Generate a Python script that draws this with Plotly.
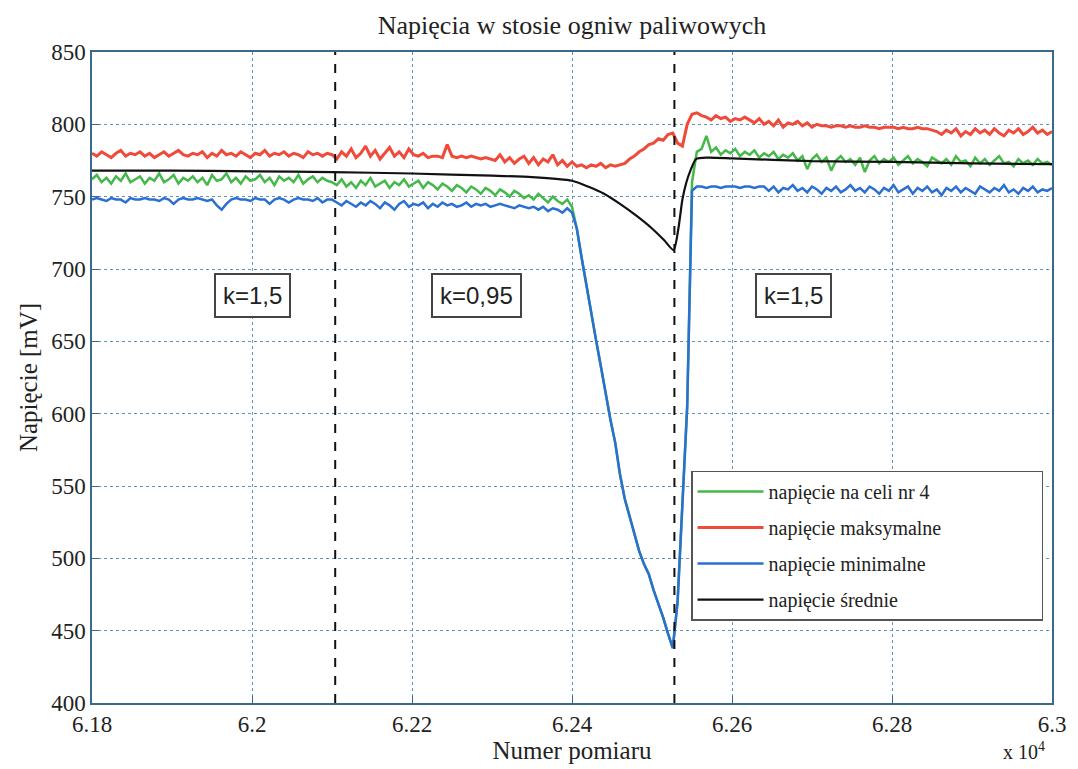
import plotly.graph_objects as go

# measurement numbers (sampled every 6 measurements)
sample = list(range(61800, 63001, 6))

v_cell4 = [
    762, 765, 760, 763, 759, 764, 761, 766, 760, 762,
    764, 759, 763, 761, 766, 760, 762, 765, 759, 763,
    761, 764, 760, 763, 758, 765, 761, 762, 766, 760,
    763, 759, 764, 761, 762, 765, 760, 763, 758, 764,
    761, 763, 760, 765, 759, 762, 764, 760, 763, 761,
    760,
    758, 762, 757, 760, 756, 761, 758, 763, 757, 759,
    761, 756, 760, 758, 762, 757, 759, 761, 756, 760,
    758, 755, 759, 757, 754, 758, 756, 753, 757, 755,
    752, 756, 754, 751, 755, 753, 750, 754, 752, 749,
    751, 748, 752, 749, 746, 750, 747, 745, 748, 743,
    728, 708, 688, 668, 651, 633, 613, 596, 580, 558,
    541, 529, 518, 505, 496, 489, 478, 469, 459, 448,
    438, 470, 535, 605,
    760, 781,
    783, 792, 781, 784, 779, 782, 780, 783, 778, 781,
    779, 782, 777, 780, 778, 781, 776, 779, 777, 780,
    775, 778, 769, 776, 779, 774, 777, 768, 775, 778,
    774, 776, 772, 777, 767, 775, 778, 773, 776, 774,
    777, 772, 775, 778, 773, 776, 774, 771, 777, 775,
    773, 776, 772, 778, 774, 775, 771, 777, 773, 776,
    772, 775, 778, 773, 774, 771, 776, 773, 775, 772,
    776, 773, 774, 772,
]

v_max = [
    780, 778, 781, 779, 777, 780, 782, 778, 780, 779,
    781, 778, 780, 777, 779, 781, 778, 780, 782, 779,
    778, 780, 779, 781, 777, 780, 778, 782, 779, 780,
    778, 781, 779, 777, 780, 779, 782, 778, 780, 779,
    781, 778, 780, 779, 777, 781, 779, 780, 778, 780,
    779,
    776, 781, 778, 783, 777, 780, 785, 778, 782, 776,
    780, 784, 778, 781, 777, 783, 779, 778, 780, 777,
    778, 778, 777, 786, 778, 777, 778, 777, 778, 777,
    776, 777, 776, 775, 779, 774, 777, 773, 776, 778,
    773, 777, 772, 776, 774, 779, 772, 775, 771, 774,
    771, 772, 770, 772, 771, 773, 770, 772, 771, 772,
    773, 776, 778, 781, 783, 786, 787, 790, 789, 793,
    794, 787, 785, 800, 807, 808,
    806, 805, 803, 806, 804, 805, 802, 804, 803, 805,
    803, 801, 804, 800, 802, 799, 803, 798, 801, 800,
    802, 799, 801, 798, 800, 799, 799, 798, 799, 799,
    798, 799, 798, 798, 799, 798, 798, 797, 798, 798,
    798, 797, 798, 797, 797, 798, 797, 797, 796, 795,
    793, 796, 794, 797, 792, 795, 793, 797, 794, 796,
    793, 797, 794, 792, 796, 794, 797, 793, 795, 798,
    794, 796, 793, 795,
]

v_min = [
    748, 749, 748, 747, 749, 748, 748, 746, 749, 748,
    748, 749, 748, 748, 747, 749, 748, 745, 748, 749,
    748, 748, 749, 748, 747, 748, 744, 741, 745, 748,
    749, 748, 748, 747, 749, 748, 748, 745, 748, 749,
    748, 746, 748, 749, 748, 748, 747, 749, 746, 748,
    748,
    746, 744, 747, 745, 743, 746, 744, 747, 745, 742,
    746, 744, 741, 745, 747, 743, 745, 744, 746, 742,
    745, 743, 746, 744, 745, 743, 744, 746, 743, 745,
    744, 745, 743, 744, 745, 744, 743, 742, 744, 743,
    742, 743, 741, 743, 740, 742, 741, 739, 742, 739,
    728, 708, 688, 668, 651, 633, 613, 596, 580, 558,
    541, 529, 518, 505, 496, 489, 478, 469, 459, 448,
    438, 470, 535, 605, 754,
    757, 757, 756, 757, 757, 756, 757, 757, 757, 756,
    757, 757, 756, 757, 757,
    754, 757, 753, 756, 755, 758, 754, 756, 753, 757,
    755, 752, 756, 754, 757, 753, 755, 758, 754, 756,
    753, 757, 755, 752, 756, 754, 758, 753, 755, 757,
    752, 756, 754, 757, 753, 755, 751, 756, 754, 757,
    753, 756, 754, 752, 757, 755, 753, 756, 754, 758,
    753, 755, 752, 756, 754, 757, 753, 755, 754, 756,
]

mean_x = [61800, 61900, 62000, 62100, 62200, 62300, 62350, 62400, 62420,
          62440, 62460, 62480, 62500, 62515, 62527, 62533, 62538, 62543,
          62548, 62555, 62570, 62600, 62700, 62800, 62900, 63000]
v_mean = [768, 768, 767.5, 767, 766, 764.5, 763.5, 761, 757,
          752, 745, 737, 728, 720, 713, 728, 748, 760,
          768, 776, 777, 776.5, 774.5, 774, 773, 772.5]

series_names = ["napięcie na celi nr 4", "napięcie maksymalne",
                "napięcie minimalne", "napięcie średnie"]

x_tick_vals = [61800, 62000, 62200, 62400, 62600, 62800, 63000]
x_tick_text = ["6.18", "6.2", "6.22", "6.24", "6.26", "6.28", "6.3"]

phase_bounds = [62104, 62528]
phase_labels = ["k=1,5", "k=0,95", "k=1,5"]
phase_label_x = [62001, 62281, 62677]
phase_label_y = [682, 682, 682]

serif = "Liberation Serif, Times New Roman, serif"
sans = "Liberation Sans, Arial, sans-serif"

legend_pad = "&nbsp;" * 19

fig = go.Figure()
fig.add_trace(go.Scatter(x=sample, y=v_cell4, mode="lines", name=series_names[0],
                         legendgroup="a", line=dict(color="#45b84a", width=2.5)))
fig.add_trace(go.Scatter(x=sample, y=v_max, mode="lines", name=series_names[1] + legend_pad,
                         legendgroup="b", line=dict(color="#ef4a3a", width=3)))
fig.add_trace(go.Scatter(x=sample, y=v_min, mode="lines", name=series_names[2],
                         legendgroup="c", line=dict(color="#2a6fd2", width=2.5)))
fig.add_trace(go.Scatter(x=mean_x, y=v_mean, mode="lines", name=series_names[3],
                         legendgroup="d", line=dict(color="#111111", width=2.2, shape="spline", smoothing=0.6)))

for xb in phase_bounds:
    fig.add_shape(type="line", xref="x", yref="paper", x0=xb, x1=xb, y0=0, y1=1,
                  line=dict(color="#111111", width=2, dash="dash"))

for txt, lx, ly in zip(phase_labels, phase_label_x, phase_label_y):
    fig.add_annotation(x=lx, y=ly, xref="x", yref="y", text=txt, showarrow=False,
                       font=dict(family=sans, size=24, color="#222222"),
                       bgcolor="white", bordercolor="#444444", borderwidth=2, borderpad=7)

fig.add_annotation(x=0.995, y=-0.052, xref="paper", yref="paper", xanchor="right", yanchor="top",
                   text="x 10<sup>4</sup>", showarrow=False,
                   font=dict(family=serif, size=20, color="#222222"))

axis_common = dict(showline=True, linecolor="#3b6a88", linewidth=1.5, mirror=True,
                   showgrid=True, gridcolor="#5f93b8", griddash="dot", gridwidth=1,
                   ticks="inside", ticklen=7, tickcolor="#3b6a88", zeroline=False,
                   tickfont=dict(family=serif, size=23, color="#222222"))

fig.update_layout(
    width=1078, height=769,
    margin=dict(l=92, r=17, t=52, b=64),
    paper_bgcolor="white", plot_bgcolor="white",
    title=dict(text="Napięcia w stosie ogniw paliwowych", x=0.5, xref="paper",
               y=0.979, yref="container", xanchor="center", yanchor="top",
               font=dict(family=serif, size=26, color="#222222")),
    xaxis=dict(range=[61800, 63000], tickvals=x_tick_vals, ticktext=x_tick_text,
               title=dict(text="Numer pomiaru", standoff=2,
                          font=dict(family=serif, size=25, color="#222222")),
               **axis_common),
    yaxis=dict(range=[400, 850], dtick=50,
               title=dict(text="Napięcie [mV]", standoff=6,
                          font=dict(family=serif, size=25, color="#222222")),
               **axis_common),
    legend=dict(x=0.624, y=0.357, xanchor="left", yanchor="top",
                bgcolor="white", bordercolor="#555555", borderwidth=1.5,
                font=dict(family=serif, size=20, color="#222222"),
                itemwidth=66, tracegroupgap=7),
    showlegend=True,
)

fig.write_html("out.html")
